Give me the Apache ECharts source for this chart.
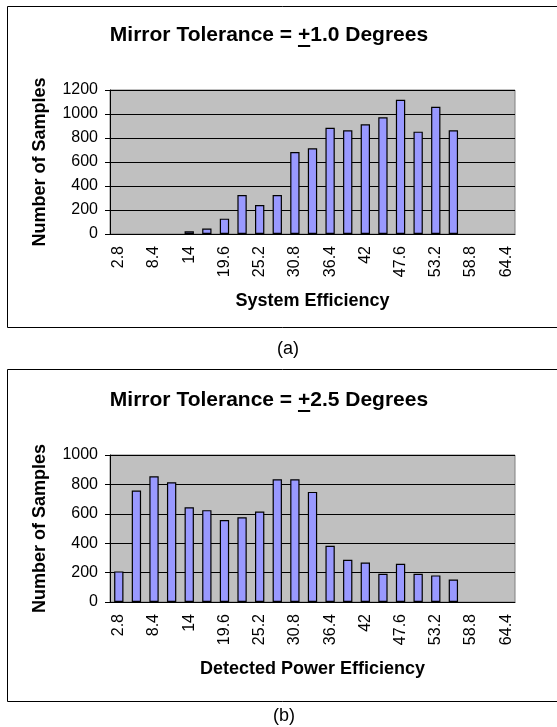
<!DOCTYPE html>
<html>
<head>
<meta charset="utf-8">
<script src="https://cdn.jsdelivr.net/npm/echarts@6/dist/echarts.min.js"></script>
<style>
  html, body { margin: 0; padding: 0; background: #fff; }
  #main-chart { width: 557px; height: 727px; }
</style>
</head>
<body>
<div id="main-chart"></div>
<script>
// =========================================
// 数据
// =========================================
const categories = ['2.8', '5.6', '8.4', '11.2', '14', '16.8', '19.6', '22.4', '25.2', '28', '30.8', '33.6',
    '36.4', '39.2', '42', '44.8', '47.6', '50.4', '53.2', '56', '58.8', '61.6', '64.4'];

// (a) Mirror Tolerance = +1.0 Degrees
const samplesA = [0, 0, 0, 0, 22, 45, 128, 325, 242, 325, 683, 714,
    886, 864, 914, 972, 1119, 853, 1061, 864, 0, 0, 0];

// (b) Mirror Tolerance = +2.5 Degrees
const samplesB = [208, 758, 855, 815, 645, 625, 557, 577, 615, 835, 835, 749,
    382, 287, 269, 192, 260, 192, 181, 153, 0, 0, 0];

const titleA = ['Mirror Tolerance = ', '+', '1.0 Degrees'];
const titleB = ['Mirror Tolerance = ', '+', '2.5 Degrees'];
const xNameA = 'System Efficiency';
const xNameB = 'Detected Power Efficiency';
const yName = 'Number of Samples';
const captions = ['(a)', '(b)'];

// =========================================
// 样式
// =========================================
const FONT = '"Liberation Sans", Arial, sans-serif';
const TITLE_FONT = 'bold 21px ' + FONT;

function measure(text, font) {
    const ctx = document.createElement('canvas').getContext('2d');
    ctx.font = font;
    return ctx.measureText(text).width;
}

// 标题 + 下划线加号
function titleGraphic(parts, cx, cy) {
    const full = parts.join('');
    const total = measure(full, TITLE_FONT);
    const pre = measure(parts[0], TITLE_FONT);
    const plus = measure(parts[1], TITLE_FONT);
    const x0 = cx - total / 2;
    return [
        { type: 'text', style: { text: full, x: cx, y: cy, align: 'center', verticalAlign: 'middle', font: TITLE_FONT, fill: '#000' } },
        { type: 'rect', shape: { x: x0 + pre, y: cy + 10, width: plus, height: 2 }, style: { fill: '#000' } }
    ];
}

function xAxisCfg(gridIndex, name) {
    return {
        type: 'category',
        gridIndex,
        data: categories,
        name,
        nameLocation: 'middle',
        nameGap: 58,
        nameTextStyle: { fontFamily: FONT, fontWeight: 'bold', fontSize: 18, color: '#000' },
        axisLine: { lineStyle: { color: '#000', width: 1 } },
        axisTick: { interval: 0, length: 5, lineStyle: { color: '#000' } },
        axisLabel: { interval: 1, rotate: 90, margin: 12, fontFamily: FONT, fontSize: 16, color: '#000' },
        splitLine: { show: false }
    };
}

function yAxisCfg(gridIndex, max) {
    return {
        type: 'value',
        gridIndex,
        min: 0,
        max,
        interval: 200,
        name: yName,
        nameLocation: 'middle',
        nameGap: 61,
        nameTextStyle: { fontFamily: FONT, fontWeight: 'bold', fontSize: 18, color: '#000' },
        axisLine: { show: true, lineStyle: { color: '#000', width: 1 } },
        axisTick: { show: true, length: 5, lineStyle: { color: '#000' } },
        axisLabel: { margin: 12, fontFamily: FONT, fontSize: 16, color: '#000', formatter: v => String(v) },
        splitLine: { lineStyle: { color: '#000', width: 1 } }
    };
}

// 0 值不画柱子 (Excel 风格)
function barSeries(idx, data) {
    return {
        type: 'bar',
        xAxisIndex: idx,
        yAxisIndex: idx,
        data: data.map(v => (v > 0 ? v : '-')),
        barWidth: '53%',
        itemStyle: { color: '#9999ff', borderColor: '#000', borderWidth: 1.2 }
    };
}

// =========================================
// 初始化
// =========================================
window.addEventListener('DOMContentLoaded', () => {
    const chart = echarts.init(document.getElementById('main-chart'), null, { renderer: 'canvas' });

    const gridStyle = { show: true, backgroundColor: '#c0c0c0', borderColor: '#808080', borderWidth: 1 };

    chart.setOption({
        animation: false,
        backgroundColor: '#fff',
        grid: [
            { ...gridStyle, left: 110, top: 90, width: 405, height: 144 },
            { ...gridStyle, left: 110, top: 455, width: 405, height: 147 }
        ],
        xAxis: [xAxisCfg(0, xNameA), xAxisCfg(1, xNameB)],
        yAxis: [yAxisCfg(0, 1200), yAxisCfg(1, 1000)],
        series: [barSeries(0, samplesA), barSeries(1, samplesB)],
        graphic: [
            // 外框
            { type: 'rect', shape: { x: 7.5, y: 6.5, width: 560, height: 321 }, style: { fill: 'none', stroke: '#000', lineWidth: 1 }, z: 100 },
            { type: 'rect', shape: { x: 7.5, y: 369.5, width: 560, height: 332 }, style: { fill: 'none', stroke: '#000', lineWidth: 1 }, z: 100 },
            ...titleGraphic(titleA, 269, 35),
            ...titleGraphic(titleB, 269, 400),
            { type: 'text', style: { text: captions[0], x: 288, y: 349, align: 'center', verticalAlign: 'middle', font: '18px ' + FONT, fill: '#000' } },
            { type: 'text', style: { text: captions[1], x: 284, y: 716, align: 'center', verticalAlign: 'middle', font: '18px ' + FONT, fill: '#000' } }
        ]
    });
});
</script>
</body>
</html>
